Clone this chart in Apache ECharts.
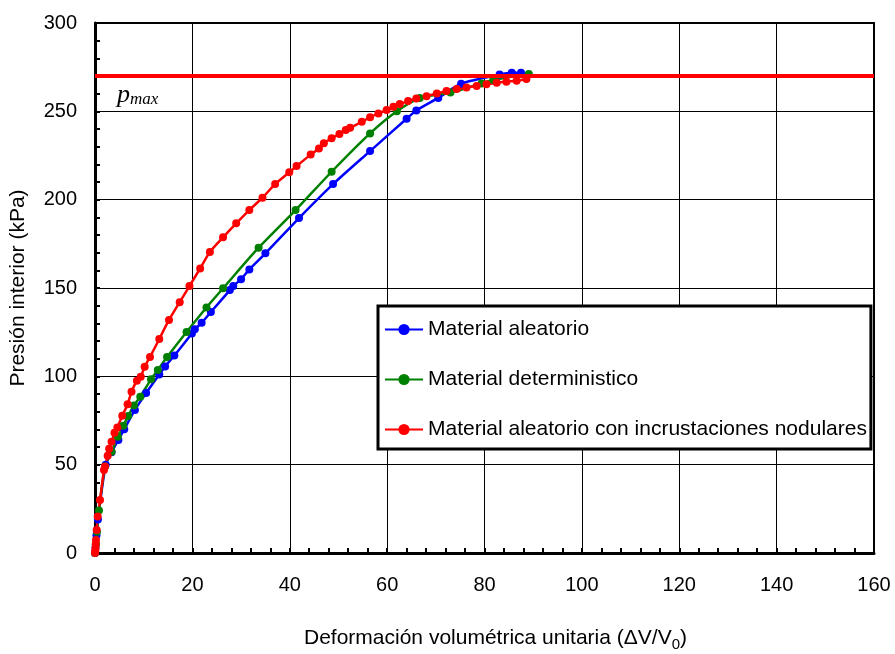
<!DOCTYPE html>
<html>
<head>
<meta charset="utf-8">
<script src="https://cdn.jsdelivr.net/npm/echarts@6/dist/echarts.min.js"></script>
<style>html,body{margin:0;padding:0;background:#fff}#c{width:895px;height:654px}</style>
</head>
<body>
<div id="c"></div>
<script>
const seriesNames = ['Material aleatorio', 'Material deterministico', 'Material aleatorio con incrustaciones nodulares'];
const aleatorio = [[0,0],[0.1,3],[0.3,10],[0.6,19],[2.2,50],[3.4,57],[4.8,64],[6.0,70],[8.2,81],[10.5,90.5],[13.2,101],[14.4,105.6],[16.3,111.8],[19.9,124.3],[20.5,126.6],[21.9,130.3],[23.8,136.4],[27.7,148.8],[28.4,151.2],[30,154.9],[31.7,160.5],[35,169.6],[41.9,189.6],[48.9,208.8],[56.5,227.5],[64,245.8],[66,250.5],[70.5,257.6],[75.2,265.6],[83.1,270.8],[85.6,271.8],[87.5,271.8]];
const deterministico = [[0,0],[0.2,5],[0.4,12],[0.82,24],[2.05,49],[3.4,57.3],[4.7,65.8],[5.8,72],[6.8,77.5],[8.0,83.5],[9.3,88.5],[11.5,98.3],[12.9,103.6],[14.8,110.9],[18.8,125.1],[22.9,139],[26.3,149.8],[33.6,172.8],[41.2,194.1],[48.6,215.8],[56.5,237.5],[62,250],[66.7,257.5],[73,260.6],[79.4,265.8],[81.8,267.7],[89.1,271.1]];
const nodular = [[0,0],[0.05,1],[0.1,2.6],[0.15,5],[0.2,7.4],[0.34,13],[0.55,20.6],[1.03,30],[1.85,47],[2.05,49],[2.6,55],[2.9,59],[3.4,63],[4.0,68],[4.6,71],[5.6,77.7],[6.7,84.2],[7.5,91.3],[8.6,97.5],[9.4,99.8],[10.2,105.4],[11.3,111],[13.2,121.1],[15.2,131.9],[17.4,142],[19.4,151.1],[21.6,161.1],[23.6,170.4],[26.3,178.7],[29,186.6],[31.7,194.1],[34.4,201.1],[37,208.8],[39.9,215.5],[41.4,219],[44.3,225.5],[46,229],[47,231.9],[48.6,234.7],[50.2,237.1],[51.5,239.4],[52.4,240.7],[54.8,244.1],[56.5,246.6],[58.2,248.8],[59.9,250.7],[61.3,252.6],[62.6,254.1],[64.3,255.8],[66,257.3],[68.1,258.6],[70.2,260.1],[72.2,261.5],[74.3,262.6],[76.3,263.5],[78.4,264.3],[80.4,265.3],[82.5,266.2],[84.5,266.8],[86.6,267.3],[88.6,268.3]];
const pmax = 270;
const xRange = [0, 160];
const yRange = [0, 300];

const chart = echarts.init(document.getElementById('c'));
const font = 'Liberation Sans, Arial, sans-serif';
function lineSeries(name, data, color, size) {
  return {
    name, type: 'line', data, smooth: 0.25, symbol: 'circle', symbolSize: size,
    lineStyle: { color, width: 2.5 }, itemStyle: { color }, color, z: 3
  };
}
chart.setOption({
  animation: false,
  grid: { left: 95, right: 21, top: 23, bottom: 101, show: true, borderColor: '#000', borderWidth: 2 },
  xAxis: {
    type: 'value', min: xRange[0], max: xRange[1], interval: 20,
    axisLine: { show: true, lineStyle: { color: '#000', width: 3 } },
    axisTick: { show: true, inside: true, length: 5, lineStyle: { color: '#000', width: 2 } },
    minorTick: { show: true, splitNumber: 5, length: 5, lineStyle: { color: '#000', width: 2 } },
    splitLine: { show: true, lineStyle: { color: '#000', width: 1 } },
    axisLabel: { color: '#000', fontSize: 20, fontFamily: font, margin: 22 }
  },
  yAxis: {
    type: 'value', min: yRange[0], max: yRange[1], interval: 50,
    name: 'Presión interior (kPa)', nameLocation: 'middle', nameGap: 66,
    nameTextStyle: { color: '#000', fontSize: 21, fontFamily: font },
    axisLine: { show: true, lineStyle: { color: '#000', width: 3 } },
    axisTick: { show: true, inside: true, length: 5, lineStyle: { color: '#000', width: 2 } },
    minorTick: { show: true, splitNumber: 5, length: 5, lineStyle: { color: '#000', width: 2 } },
    splitLine: { show: true, lineStyle: { color: '#000', width: 1 } },
    axisLabel: { color: '#000', fontSize: 20, fontFamily: font, margin: 18 }
  },
  legend: {
    orient: 'vertical', left: 378, top: 306, data: seriesNames,
    backgroundColor: '#fff', borderColor: '#000', borderWidth: 3,
    padding: [13, 4, 9, 6], itemGap: 29, itemWidth: 38, itemHeight: 14,
    textStyle: { color: '#000', fontSize: 21, fontFamily: font }
  },
  series: [
    lineSeries(seriesNames[0], aleatorio, '#0000ff', 8),
    lineSeries(seriesNames[1], deterministico, '#008000', 8),
    lineSeries(seriesNames[2], nodular, '#ff0000', 8),
    {
      name: 'pmax', type: 'line', data: [[xRange[0], pmax], [xRange[1], pmax]],
      symbol: 'none', lineStyle: { color: '#ff0000', width: 4 }, z: 4, silent: true
    }
  ],
  graphic: [
    {
      type: 'text', left: 117, top: 82,
      style: {
        rich: {
          p: { fontFamily: 'Liberation Serif, Times New Roman, serif', fontStyle: 'italic', fontSize: 26, fill: '#000' },
          s: { fontFamily: 'Liberation Serif, Times New Roman, serif', fontStyle: 'italic', fontSize: 17, fill: '#000', padding: [10, 0, 0, 0] }
        },
        text: '{p|p}{s|max}'
      }
    },
    {
      type: 'text', left: 304, top: 628,
      style: {
        rich: {
          a: { fontFamily: font, fontSize: 21, fill: '#000' },
          b: { fontFamily: font, fontSize: 15, fill: '#000', padding: [12, 0, 0, 0] }
        },
        text: '{a|Deformación volumétrica unitaria (ΔV/V}{b|0}{a|)}'
      }
    }
  ]
});
</script>
</body>
</html>
